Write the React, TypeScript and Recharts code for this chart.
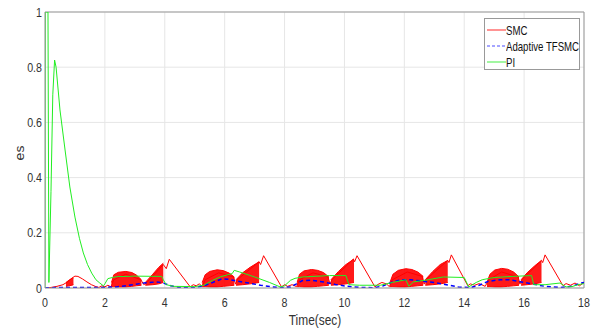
import { Area, CartesianGrid, ComposedChart, Line, ReferenceLine, XAxis, YAxis } from "recharts"

// SMC: sliding mode controller error
const smcTime = [
  0, 0.2, 0.4, 0.6, 0.75, 0.9, 1.0, 1.1, 1.25, 1.4, 1.55, 1.7, 1.8, 1.9, 2.0, 2.1, 2.2,
  2.3, 2.7, 3.2, 3.3, 3.4, 3.95, 4.05, 4.15, 4.85, 4.95, 5.05, 5.15, 5.25,
  5.35, 5.8, 6.3, 6.36, 6.42, 7.15, 7.2, 7.3, 7.9, 8.0, 8.1, 8.25, 8.4,
  8.5, 8.95, 9.45, 9.52, 9.58, 10.3, 10.34, 10.42, 11.02, 11.1, 11.25, 11.4, 11.5,
  11.6, 12.1, 12.6, 12.66, 12.72, 13.45, 13.49, 13.57, 14.12, 14.2, 14.35, 14.5, 14.7,
  14.82, 15.25, 15.8, 15.86, 15.92, 16.58, 16.62, 16.7, 17.3, 17.4, 17.55, 17.7, 17.85, 18,
]
const smcValue = [
  0, 0.002, 0.006, 0.012, 0.022, 0.036, 0.043, 0.042, 0.033, 0.022, 0.012, 0.005, 0.002, 0.008, 0.004, 0.01, 0.004,
  0.03, 0.05, 0.03, 0.012, 0.02, 0.085, 0.07, 0.104, 0.004, 0.012, 0.008, 0.015, 0.006,
  0.03, 0.055, 0.04, 0.014, 0.03, 0.095, 0.085, 0.117, 0.004, 0.012, 0.006, 0.012, 0.005,
  0.03, 0.055, 0.04, 0.014, 0.03, 0.105, 0.095, 0.117, 0.004, 0.012, 0.02, 0.015, 0.005,
  0.03, 0.058, 0.042, 0.014, 0.03, 0.1, 0.092, 0.12, 0.008, 0.015, 0.01, 0.016, 0.006,
  0.03, 0.058, 0.04, 0.014, 0.03, 0.1, 0.092, 0.12, 0.008, 0.016, 0.01, 0.018, 0.008, 0.02,
]

// SMC chattering bands (low / high envelope)
const chatterTime = [
  [0.7, 0.8, 0.9, 0.95],
  [2.22, 2.3, 2.45, 2.7, 2.9, 3.05, 3.22],
  [3.35, 3.6, 3.8, 3.95],
  [5.25, 5.35, 5.5, 5.75, 5.95, 6.15, 6.32],
  [6.38, 6.6, 6.85, 7.15],
  [8.42, 8.5, 8.65, 8.9, 9.1, 9.3, 9.48],
  [9.55, 9.8, 10.05, 10.32],
  [11.52, 11.62, 11.8, 12.05, 12.25, 12.45, 12.63],
  [12.7, 12.95, 13.2, 13.45],
  [14.76, 14.86, 15.02, 15.25, 15.45, 15.65, 15.83],
  [15.9, 16.1, 16.35, 16.58],
]
const chatterLow = [
  [0.006, 0.008, 0.01, 0.012],
  [0.005, 0.005, 0.004, 0.004, 0.006, 0.008, 0.01],
  [0.01, 0.012, 0.015, 0.02],
  [0.005, 0.005, 0.004, 0.004, 0.006, 0.008, 0.01],
  [0.01, 0.012, 0.015, 0.02],
  [0.005, 0.005, 0.004, 0.004, 0.006, 0.008, 0.01],
  [0.01, 0.012, 0.015, 0.02],
  [0.005, 0.005, 0.004, 0.004, 0.006, 0.008, 0.01],
  [0.01, 0.012, 0.015, 0.02],
  [0.005, 0.005, 0.004, 0.004, 0.006, 0.008, 0.01],
  [0.01, 0.012, 0.015, 0.02],
]
const chatterHigh = [
  [0.02, 0.028, 0.035, 0.036],
  [0.02, 0.048, 0.057, 0.06, 0.056, 0.047, 0.03],
  [0.02, 0.05, 0.075, 0.09],
  [0.02, 0.048, 0.06, 0.066, 0.063, 0.054, 0.04],
  [0.03, 0.055, 0.075, 0.095],
  [0.02, 0.05, 0.062, 0.067, 0.064, 0.056, 0.04],
  [0.03, 0.06, 0.085, 0.105],
  [0.02, 0.05, 0.064, 0.07, 0.067, 0.058, 0.042],
  [0.03, 0.06, 0.085, 0.1],
  [0.02, 0.05, 0.065, 0.071, 0.068, 0.058, 0.04],
  [0.03, 0.055, 0.08, 0.1],
]

// Adaptive TFSMC
const tfsmcTime = [
  0, 1.0, 2.0, 2.4, 2.8, 3.3, 3.7, 3.9, 4.2, 4.5, 5.0, 5.3, 5.6, 5.9, 6.1, 6.4, 6.8, 7.2, 7.6, 7.9,
  8.2, 8.4, 8.6, 8.9, 9.3, 9.7, 10.1, 10.5, 11.0, 11.3, 11.6, 11.9, 12.2, 12.6, 13.0, 13.4, 13.8,
  14.2, 14.5, 14.8, 15.2, 15.5, 15.9, 16.3, 16.7, 17.2, 17.6, 17.9, 18,
]
const tfsmcValue = [
  0.001, 0.002, 0.002, 0.004, 0.01, 0.018, 0.022, 0.02, 0.008, 0.002, 0.002, 0.008, 0.02, 0.033, 0.032, 0.025, 0.018, 0.01, 0.004, 0.001,
  0.004, 0.015, 0.027, 0.028, 0.022, 0.013, 0.006, 0.002, 0.001, 0.008, 0.022, 0.03, 0.03, 0.025, 0.02, 0.012, 0.004,
  0.001, 0.01, 0.024, 0.03, 0.03, 0.022, 0.014, 0.006, 0.002, 0.006, 0.018, 0.02,
]

// PI
const piTime = [
  0, 0.01, 0.1, 0.13, 0.2, 0.26, 0.32, 0.37, 0.5, 0.67, 0.83, 1.0, 1.15, 1.28, 1.42, 1.56, 1.7, 1.83, 1.95,
  2.0, 2.1, 2.25, 2.4, 3.0, 3.9, 3.95, 4.05, 4.3, 5.0, 5.3, 5.6, 5.85, 6.1, 6.25, 6.32, 6.5, 7.0, 7.5, 7.85,
  8.0, 8.2, 8.35, 8.6, 9.5, 10.05, 10.15, 10.5, 11.2, 11.6, 12.05, 12.15, 12.3, 12.8, 13.3, 14.0, 14.15,
  14.4, 14.6, 15.0, 15.6, 16.25, 16.32, 16.7, 17.2, 17.4, 17.6, 17.8, 18,
]
const piValue = [
  0, 1, 1, 0.02, 0.35, 0.7, 0.826, 0.8, 0.645, 0.5, 0.366, 0.257, 0.18, 0.127, 0.085, 0.054, 0.03, 0.018, 0.008,
  0.015, 0.034, 0.038, 0.041, 0.043, 0.042, 0.03, 0.012, 0.006, 0.005, 0.01, 0.028, 0.04, 0.048, 0.052, 0.064, 0.058, 0.04, 0.02, 0.004,
  0.008, 0.028, 0.035, 0.04, 0.045, 0.045, 0.012, 0.01, 0.01, 0.02, 0.03, 0.006, 0.022, 0.03, 0.04, 0.038, 0.004,
  0.02, 0.03, 0.038, 0.042, 0.045, 0.012, 0.012, 0.018, 0.004, 0.005, 0.012, 0.016,
]

const xTicks = [0, 2, 4, 6, 8, 10, 12, 14, 16, 18]
const yTicks = [0, 0.2, 0.4, 0.6, 0.8, 1]

const seriesNames = ["SMC", "Adaptive TFSMC", "PI"]
const seriesColors = ["#ff0000", "#0000ff", "#22ee22"]

const font = "'Liberation Sans', Arial, sans-serif"

const smcData = smcTime.map((t, i) => ({ t, v: smcValue[i] }))
const tfsmcData = tfsmcTime.map((t, i) => ({ t, v: tfsmcValue[i] }))
const piData = piTime.map((t, i) => ({ t, v: piValue[i] }))
const bands = chatterTime.map((seg, k) =>
  seg.map((t, j) => ({ t, band: [chatterLow[k][j], chatterHigh[k][j]] }))
)

// narrow tick text, the source figure is squeezed horizontally
const XTick = (props: any) => {
  const { x, y, payload } = props
  return (
    <g transform={`translate(${x},${y})`}>
      <text transform="scale(0.82,1)" textAnchor="middle" dy="0.71em" fontSize={13} fill="#333" fontFamily={font}>
        {payload.value}
      </text>
    </g>
  )
}

const YTick = (props: any) => {
  const { x, y, payload } = props
  return (
    <g transform={`translate(${x},${y})`}>
      <text transform="scale(0.82,1)" textAnchor="end" dy="0.36em" fontSize={13} fill="#333" fontFamily={font}>
        {payload.value}
      </text>
    </g>
  )
}

const App = () => {
  return (
    <div style={{ position: "absolute", left: 0, top: 0, width: 599, height: 329, background: "#fff", fontFamily: font }}>
      <ComposedChart width={599} height={329} margin={{ top: 12, right: 15, bottom: 0, left: 0 }}>
        <CartesianGrid stroke="#e6e6e6" />
        <XAxis
          dataKey="t"
          type="number"
          domain={[0, 18]}
          ticks={xTicks}
          height={41}
          tickLine={false}
          tickSize={0}
          tickMargin={10}
          axisLine={{ stroke: "#999" }}
          tick={XTick}
          allowDataOverflow
        />
        <YAxis
          type="number"
          domain={[0, 1]}
          ticks={yTicks}
          width={45}
          tickLine={false}
          tickSize={0}
          tickMargin={3}
          axisLine={{ stroke: "#999" }}
          tick={YTick}
          allowDataOverflow
        />
        <ReferenceLine y={1} stroke="#999" />
        <ReferenceLine x={18} stroke="#999" />
        <Line data={smcData} dataKey="v" type="linear" stroke="#ff0000" strokeWidth={1} dot={false} isAnimationActive={false} />
        {bands.map((b, i) => (
          <Area
            key={i}
            data={b}
            dataKey="band"
            type="linear"
            stroke="#ff0000"
            strokeWidth={1}
            fill="#ff0000"
            fillOpacity={0.9}
            isAnimationActive={false}
          />
        ))}
        <Line data={tfsmcData} dataKey="v" type="linear" stroke="#0000ff" strokeWidth={1.5} strokeDasharray="4 3" dot={false} isAnimationActive={false} />
        <Line data={piData} dataKey="v" type="linear" stroke="#22ee22" strokeWidth={1} dot={false} isAnimationActive={false} />
      </ComposedChart>
      <div style={{ position: "absolute", left: 20, top: 153, transform: "translate(-50%, -50%) rotate(-90deg) scale(1, 0.85)", fontSize: 14, color: "#333" }}>
        es
      </div>
      <div style={{ position: "absolute", left: 315, top: 320, transform: "translate(-50%, -50%) scale(0.85, 1)", fontSize: 14, color: "#333", whiteSpace: "nowrap" }}>
        Time(sec)
      </div>
      <div style={{ position: "absolute", left: 484, top: 18, width: 94, height: 50, border: "1px solid #999", background: "#fff", fontSize: 13, color: "#111" }}>
        {seriesNames.map((name, i) => (
          <div key={name} style={{ position: "absolute", left: 2, top: 4 + i * 16, height: 14, display: "flex", alignItems: "center", whiteSpace: "nowrap" }}>
            <svg width={19} height={4}>
              <line x1={0} y1={2} x2={19} y2={2} stroke={seriesColors[i]} strokeWidth={1.2} strokeDasharray={i === 1 ? "3 2" : undefined} opacity={0.7} />
            </svg>
            <span style={{ display: "inline-block", transform: "scale(0.74, 1)", transformOrigin: "left center" }}>{name}</span>
          </div>
        ))}
      </div>
    </div>
  )
}

export default App
